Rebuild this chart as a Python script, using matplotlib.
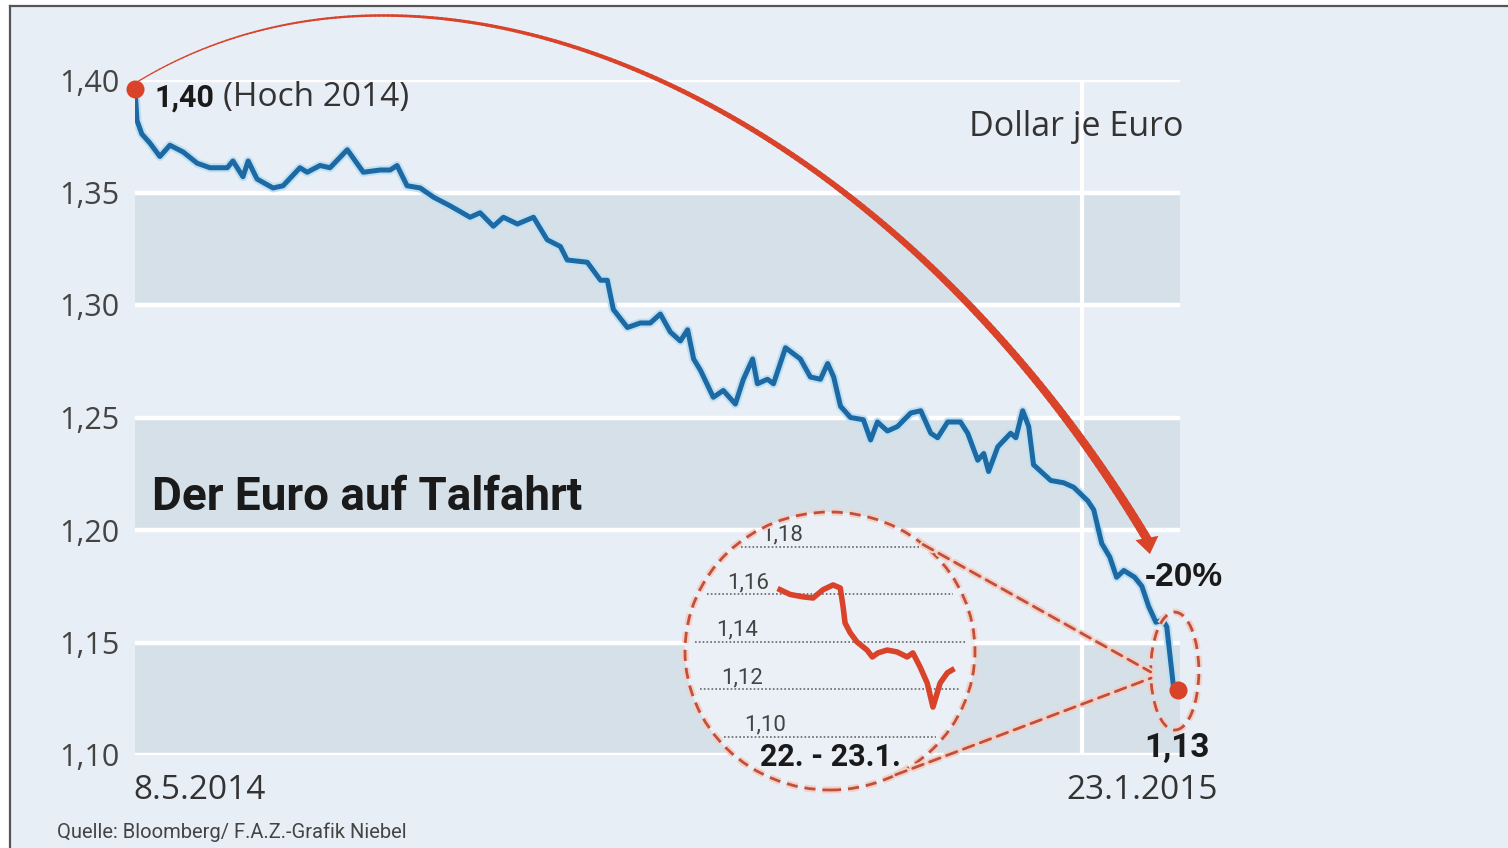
import numpy as np
import matplotlib
matplotlib.use("Agg")
import matplotlib.pyplot as plt
import matplotlib.patheffects as pe
from matplotlib import font_manager
from matplotlib.patches import Ellipse, ConnectionPatch
from matplotlib.collections import LineCollection
from matplotlib.lines import Line2D

# Euro in Dollar, 8.5.2014 (day 0) bis 23.1.2015 (day 260)
days = [0, 0.5, 1.7, 3.7, 6.2, 8.7, 12, 15.5, 18.7, 23, 24.4, 26.9, 28.2, 30.4, 34.4,
        36.9, 41.1, 42.9, 46.1, 48.6, 52.9, 56.9, 61.1, 63.6, 65.3, 67.8, 71.1, 74.3,
        78.6, 83.5, 86, 89.3, 91.8, 95.3, 99.3, 102.7, 106, 107.7, 112.7, 116, 117.7,
        119.2, 122.7, 125.9, 128.4, 130.9, 133.4, 135.9, 137.7, 139.2, 140.9, 144.1,
        146.6, 149.6, 151.6, 153.9, 155.1, 157.6, 159.1, 162.1, 165.8, 168.3, 170.8,
        172.6, 174.1, 175.8, 178.3, 181.5, 183.3, 185, 187.5, 190, 193.3, 195.8, 198.3,
        200, 202.5, 205.7, 207.5, 210, 211.5, 212.7, 215, 218.2, 219.5, 221.2, 222.7,
        223.9, 228.2, 231.4, 233.9, 237.4, 238.9, 240.9, 242.9, 244.6, 246.4, 249.1,
        250.9, 252.6, 254.4, 256.1, 257.1, 258.8, 260]
eur_usd = [1.396, 1.382, 1.376, 1.372, 1.366, 1.371, 1.368, 1.363, 1.361, 1.361, 1.364,
           1.357, 1.364, 1.356, 1.352, 1.353, 1.361, 1.359, 1.362, 1.361, 1.369, 1.359,
           1.360, 1.360, 1.362, 1.353, 1.352, 1.348, 1.344, 1.339, 1.341, 1.335, 1.339,
           1.336, 1.339, 1.329, 1.326, 1.320, 1.319, 1.311, 1.311, 1.298, 1.290, 1.292,
           1.292, 1.296, 1.288, 1.284, 1.289, 1.276, 1.271, 1.259, 1.262, 1.256, 1.267,
           1.276, 1.265, 1.267, 1.265, 1.281, 1.276, 1.268, 1.267, 1.274, 1.268, 1.255,
           1.250, 1.249, 1.240, 1.248, 1.244, 1.246, 1.252, 1.253, 1.243, 1.241, 1.248,
           1.248, 1.243, 1.231, 1.234, 1.226, 1.237, 1.243, 1.241, 1.253, 1.246, 1.229,
           1.222, 1.221, 1.219, 1.213, 1.209, 1.194, 1.188, 1.179, 1.182, 1.179, 1.175,
           1.166, 1.159, 1.160, 1.157, 1.130, 1.129]

# Zoom 22. - 23.1. (hours)
hours = [0, 2.1, 4.8, 6.9, 9, 11.1, 12.6, 13.2, 13.6, 14.7, 16.1, 18.2, 19.3, 20.5,
         22.4, 24.5, 26.6, 27.8, 29.3, 30.8, 32, 33.5, 35, 36]
zoom_vals = [1.162, 1.160, 1.159, 1.1585, 1.162, 1.164, 1.1627, 1.1547, 1.148, 1.1438,
             1.140, 1.1366, 1.1337, 1.1354, 1.1366, 1.1358, 1.1337, 1.1354, 1.1295,
             1.1227, 1.1126, 1.1227, 1.127, 1.1282]

yticks = [1.10, 1.15, 1.20, 1.25, 1.30, 1.35, 1.40]
ytick_labels = ["1,10", "1,15", "1,20", "1,25", "1,30", "1,35", "1,40"]
bands = [(1.10, 1.15), (1.20, 1.25), (1.30, 1.35)]
zoom_ticks = [1.10, 1.12, 1.14, 1.16, 1.18]
zoom_labels = ["1,10", "1,12", "1,14", "1,16", "1,18"]

BG = "#e8eef5"
BAND = "#d6e0e9"
BLUE = "#1c69a4"
RED = "#d8432a"
DASH = "#c0503c"
TXT = "#333333"

names = {f.name for f in font_manager.fontManager.ttflist}
NARROW = "Liberation Sans Narrow" if "Liberation Sans Narrow" in names else "Roboto"
REG = "Open Sans"

fig = plt.figure(figsize=(15.08, 8.48), dpi=100, facecolor=BG)
ax = fig.add_axes([135 / 1508, 93 / 848, 1045 / 1508, 675 / 848])
ax.set_facecolor("none")
ax.set_xlim(0, 260.4)
ax.set_ylim(1.10, 1.40)
for s in ax.spines.values():
    s.set_visible(False)

for lo, hi in bands:
    ax.axhspan(lo, hi, color=BAND, lw=0, zorder=0)
for y in yticks:
    ax.axhline(y, color="white", lw=3.2, zorder=1)
ax.axvline(236, color="white", lw=3, zorder=1)

ax.set_xticks([])
ax.set_yticks(yticks, labels=ytick_labels)
ax.tick_params(axis="y", length=0, pad=11, labelsize=22, labelcolor="#444444")
for lab in ax.get_yticklabels():
    lab.set_fontfamily(REG)

# main line
ax.plot(days, eur_usd, color=BLUE, lw=3.6, zorder=4, solid_joinstyle="round",
        path_effects=[pe.Stroke(linewidth=6.5, foreground="#bfe0f2"), pe.Normal()])
ax.plot([days[0], days[-1]], [eur_usd[0], eur_usd[-1]], "o", color=RED, ms=13,
        mec="none", zorder=6, clip_on=False)

# tapered red arc (cubic bezier)
P = np.array([[0.5, 1.3991], [74.3, 1.4791], [186.4, 1.392], [252.2, 1.196]])
t = np.linspace(0, 1, 240)[:, None]
curve = ((1 - t) ** 3) * P[0] + 3 * t * (1 - t) ** 2 * P[1] + 3 * t ** 2 * (1 - t) * P[2] + t ** 3 * P[3]
segs = np.stack([curve[:-1], curve[1:]], axis=1)
widths = 0.9 + 5.6 * np.linspace(0, 1, len(segs)) ** 1.3
lc = LineCollection(segs, linewidths=widths, colors=RED, capstyle="round", zorder=5)
lc.set_clip_on(False)
ax.add_collection(lc)
ax.annotate("", xy=(252.9, 1.1893), xytext=(252.2, 1.196),
            arrowprops=dict(arrowstyle="-|>,head_length=0.42,head_width=0.3",
                            mutation_scale=28, color=RED, lw=0, shrinkA=0, shrinkB=0),
            zorder=5, annotation_clip=False)

# texts in main chart
ax.text(4.8, 1.3924, "1,40", fontfamily=NARROW, fontweight="bold", fontsize=22,
        color="#1a1a1a", va="center", ha="left", zorder=7)
ax.text(21.9, 1.3924, "(Hoch 2014)", fontfamily=REG, fontsize=24, color=TXT,
        va="center", ha="left", zorder=7)
ax.text(261.2, 1.3791, "Dollar je Euro", fontfamily=REG, fontsize=24.5, color=TXT,
        va="center", ha="right")
ax.text(4.2, 1.2147, "Der Euro auf Talfahrt", fontfamily=NARROW, fontweight="bold",
        fontsize=33, color="#1a1a1a", va="center", ha="left", zorder=7)
ax.text(251.7, 1.1787, "-20%", fontfamily="Liberation Sans", fontweight="bold",
        fontsize=24, color="#1a1a1a", va="center", ha="left", zorder=7)
ax.text(259.6, 1.1031, "1,13", fontfamily=NARROW, fontweight="bold", fontsize=24,
        color="#1a1a1a", va="center", ha="center", zorder=7)
ax.text(-0.5, -0.052, "8.5.2014", transform=ax.get_xaxis_transform(), fontfamily=REG,
        fontsize=24, color=TXT, va="center", ha="left")
ax.text(269.9, -0.052, "23.1.2015", transform=ax.get_xaxis_transform(), fontfamily=REG,
        fontsize=24, color=TXT, va="center", ha="right")

halo = [pe.Stroke(linewidth=5, foreground="#f3cfc6"), pe.Normal()]

# small ellipse round the last value
end_ring = Ellipse((259.1, 1.1373), 12, 0.0524, fill=False, ec=DASH, lw=2,
                   ls=(0, (4, 2.5)), zorder=6, path_effects=halo)
end_ring.set_clip_on(False)
ax.add_patch(end_ring)

# zoom circle
ax_in = fig.add_axes([685 / 1508, 58 / 848, 290 / 1508, 278 / 848])
ax_in.set_xlim(-19.9, 40.8)
ax_in.set_ylim(1.0777, 1.1947)
ax_in.axis("off")
ring_bg = Ellipse((0.5, 0.5), 1, 1, transform=ax_in.transAxes, fc="#ebf0f6", ec="none",
                  zorder=0)
ax_in.add_patch(ring_bg)
ring = Ellipse((0.5, 0.5), 1, 1, transform=ax_in.transAxes, fill=False, ec=DASH, lw=2,
               ls=(0, (4, 2.5)), zorder=5, path_effects=halo)
ring.set_clip_on(False)
ax_in.add_patch(ring)

ylo, yhi = ax_in.get_ylim()
for v, lab in zip(zoom_ticks, zoom_labels):
    f = (v - ylo) / (yhi - ylo)
    half = 0.5 * np.sqrt(1 - (2 * f - 1) ** 2) * 0.93
    ax_in.axhline(v, xmin=0.5 - half, xmax=0.5 + half, color="#666666", lw=1.2,
                  ls=(0, (1, 1.3)), zorder=1)
    ax_in.text(0.5 - half + 0.07, v + 0.0006, lab, transform=ax_in.get_yaxis_transform(),
               fontfamily=NARROW, fontsize=16, color="#444444", va="bottom", ha="left")
ax_in.plot(hours, zoom_vals, color=RED, lw=4, zorder=3, solid_joinstyle="round")
ax_in.text(0.503, 0.119, "22. - 23.1.", transform=ax_in.transAxes, fontfamily=NARROW,
           fontweight="bold", fontsize=22, color="#1a1a1a", va="center", ha="center")

# connectors from zoom circle to end ellipse
for a_pt, b_pt in [((0.821, 0.883), (253.1, 1.1369)), ((0.727, 0.055), (253.2, 1.1342))]:
    con = ConnectionPatch(xyA=a_pt, coordsA=ax_in.transAxes, xyB=b_pt, coordsB=ax.transData,
                          color=DASH, lw=2, ls=(0, (4, 2.5)), zorder=4, path_effects=halo)
    fig.add_artist(con)

# source
fig.text(57 / 1508, 1 - 832 / 848, "Quelle: Bloomberg/ F.A.Z.-Grafik Niebel",
         fontfamily=NARROW, fontsize=14.5, color="#444444", va="center", ha="left")

# screenshot frame
fig.add_artist(plt.Rectangle((0, 1 - 5 / 848), 1, 5 / 848, transform=fig.transFigure,
                             fc="white", ec="none"))
fig.add_artist(plt.Rectangle((0, 0), 9 / 1508, 1, transform=fig.transFigure,
                             fc="white", ec="none"))
fig.add_artist(Line2D([9.5 / 1508, 1], [1 - 6 / 848, 1 - 6 / 848], transform=fig.transFigure,
                      color="#555555", lw=1.6))
fig.add_artist(Line2D([10 / 1508, 10 / 1508], [0, 1 - 6 / 848], transform=fig.transFigure,
                      color="#555555", lw=1.6))

fig.savefig("out.png", dpi=100, facecolor=BG)
